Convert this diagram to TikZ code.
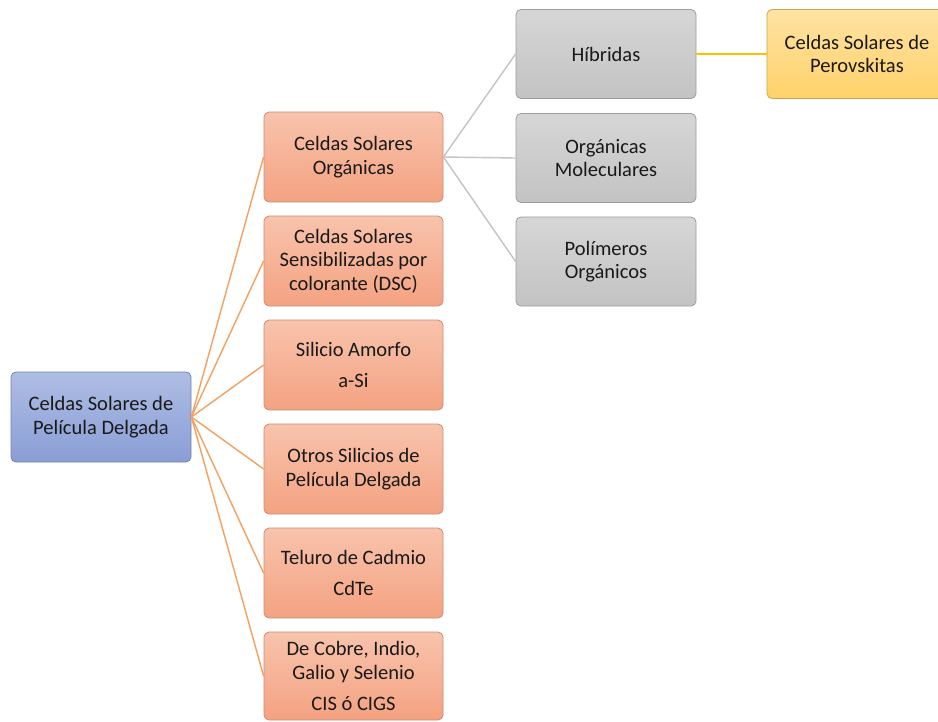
\documentclass[tikz,border=0pt]{standalone}
\usepackage{fontspec}
\setmainfont{Carlito}
\definecolor{rootTop}{HTML}{AEBDE3}
\definecolor{rootBot}{HTML}{8A9ED6}
\definecolor{rootLine}{HTML}{7183B5}
\definecolor{orTop}{HTML}{F8C3AC}
\definecolor{orBot}{HTML}{F4A281}
\definecolor{orLine}{HTML}{C98E75}
\definecolor{grTop}{HTML}{D6D6D6}
\definecolor{grBot}{HTML}{C3C3C3}
\definecolor{grLine}{HTML}{9C9C9C}
\definecolor{yeTop}{HTML}{FFE3A3}
\definecolor{yeBot}{HTML}{FFD16A}
\definecolor{yeLine}{HTML}{CBA650}
\definecolor{orConn}{HTML}{F4A15F}
\definecolor{grConn}{HTML}{C4C4C4}
\definecolor{perovConn}{HTML}{FFC000}
\begin{document}
\begin{tikzpicture}[x=1pt,y=-1pt,
  box/.style={rounded corners=5pt, line width=0.8pt, align=center,
    font=\fontsize{20.5}{23.5}\selectfont, text=black!90, inner sep=2pt},
  rootbox/.style={box, draw=rootLine, top color=rootTop, bottom color=rootBot,
    minimum width=180pt, minimum height=90pt},
  orbox/.style={box, draw=orLine, top color=orTop, bottom color=orBot,
    minimum width=179pt, minimum height=90pt},
  grbox/.style={box, draw=grLine, top color=grTop, bottom color=grBot,
    minimum width=180pt, minimum height=89pt},
  yebox/.style={box, draw=yeLine, top color=yeTop, bottom color=yeBot,
    minimum width=180pt, minimum height=89pt},
  orc/.style={draw=orConn, line width=1.4pt},
  grc/.style={draw=grConn, line width=1.4pt},
  pvc/.style={draw=perovConn, line width=2pt}
]
\useasboundingbox (0,0) rectangle (938,721);
\fill[white] (0,0) rectangle (938,721);

\node[rootbox] (root) at (101,417) {Celdas Solares de\\Película Delgada};

\node[orbox] (o1) at (353.5,157) {Celdas Solares\\Orgánicas};
\node[orbox] (o2) at (353.5,261) {Celdas Solares\\Sensibilizadas por\\colorante (DSC)};
\node[orbox] (o3) at (353.5,365) {Silicio Amorfo\\[8pt]a-Si};
\node[orbox] (o4) at (353.5,469) {Otros Silicios de\\Película Delgada};
\node[orbox] (o5) at (353.5,573) {Teluro de Cadmio\\[8pt]CdTe};
\node[orbox, minimum height=88pt] (o6) at (353.5,676) {De Cobre, Indio,\\Galio y Selenio\\[8pt]CIS ó CIGS};

\node[grbox] (g1) at (606,54) {Híbridas};
\node[grbox] (g2) at (606,158) {Orgánicas\\Moleculares};
\node[grbox] (g3) at (606,261.5) {Polímeros\\Orgánicos};

\node[yebox] (pv) at (857,54) {\hspace*{-12pt}Celdas Solares de\hspace*{-12pt}\\\hspace*{-12pt}Perovskitas\hspace*{-12pt}};

\draw[orc] (root.east) -- (o1.west);
\draw[orc] (root.east) -- (o2.west);
\draw[orc] (root.east) -- (o3.west);
\draw[orc] (root.east) -- (o4.west);
\draw[orc] (root.east) -- (o5.west);
\draw[orc] (root.east) -- (o6.west);
\draw[grc] (o1.east) -- (g1.west);
\draw[grc] (o1.east) -- (g2.west);
\draw[grc] (o1.east) -- (g3.west);
\draw[pvc] (g1.east) -- (pv.west);
\end{tikzpicture}
\end{document}
